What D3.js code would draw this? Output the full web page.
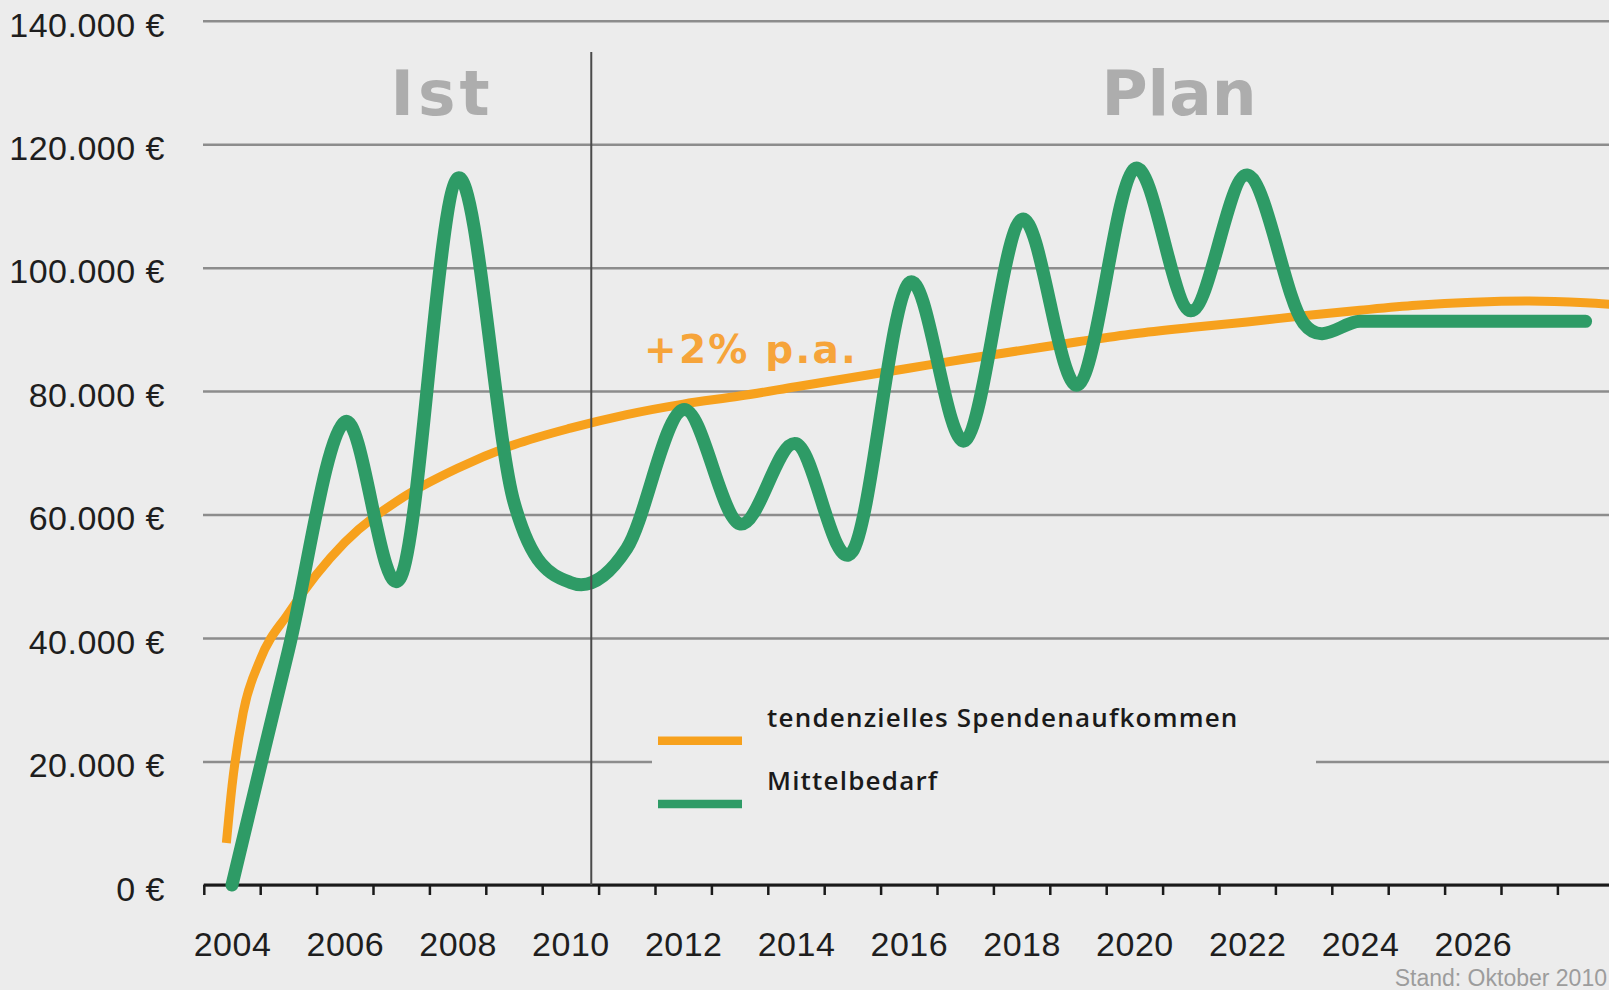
<!DOCTYPE html>
<html>
<head>
<meta charset="utf-8">
<script src="https://cdn.jsdelivr.net/npm/d3@7"></script>
<style>
  html, body { margin: 0; padding: 0; background: #ececec; }
  svg { display: block; }
</style>
</head>
<body>
<div id="chart"></div>
<script>
// ---------- DATA ----------
const greenYears = [2004, 2005, 2006, 2007, 2008, 2009, 2010, 2011, 2012, 2013, 2014, 2015, 2016,
                    2017, 2018, 2019, 2020, 2021, 2022, 2023, 2024, 2025, 2026, 2027, 2028];
const greenValues = [0, 38000, 75000, 50000, 114500, 62000, 49000, 54500, 77000, 58500, 71500, 54000, 97500,
                     72000, 107800, 81000, 116000, 93000, 115000, 91000, 91300, 91300, 91300, 91300, 91300];

const orangeYears = [2003.9, 2004, 2004.2, 2004.5, 2005, 2006, 2007, 2008, 2009, 2010, 2011, 2012, 2013, 2014,
                     2015, 2016, 2017, 2018, 2019, 2020, 2021, 2022, 2023, 2024, 2025, 2026, 2027, 2028, 2028.5];
const orangeValues = [6800, 16000, 28000, 36500, 44000, 55500, 62600, 67500, 71300, 74000, 76200, 77900, 79200, 80700,
                      82200, 83700, 85200, 86600, 88000, 89300, 90300, 91200, 92200, 93100, 93900, 94400, 94600, 94300, 94000];

const yTicks = [0, 20000, 40000, 60000, 80000, 100000, 120000, 140000];
const xLabelYears = [2004, 2006, 2008, 2010, 2012, 2014, 2016, 2018, 2020, 2022, 2024, 2026];
const xTickYears = d3.range(2003.5, 2028, 1);
const dividerYear = 2010.37;

const seriesNames = ["tendenzielles Spendenaufkommen", "Mittelbedarf"];
const phaseLabels = ["Ist", "Plan"];
const growthLabel = "+2% p.a.";
const sourceNote = "Stand: Oktober 2010";

// ---------- LAYOUT ----------
const W = 1609, H = 990;
const BG = "#ececec";
const GREEN = "#2e9b66";
const ORANGE = "#f7a11d";

const x = d3.scaleLinear().domain([2004, 2026]).range([232, 232 + 22 * 56.4]);
const y = d3.scaleLinear().domain([0, 140000]).range([885, 20.7]);
const gridLeft = 203;

const svg = d3.select("#chart").append("svg")
  .attr("width", W).attr("height", H)
  .style("font-family", "'Liberation Sans', Arial, sans-serif");

svg.append("rect").attr("width", W).attr("height", H).attr("fill", BG);

// y axis with gridlines
const locale = d3.formatLocale({decimal: ",", thousands: ".", grouping: [3], currency: ["", "\u00a0€"]});
const fmt = locale.format("$,.0f");

const yAxis = svg.append("g")
  .attr("transform", `translate(${gridLeft},0)`)
  .call(d3.axisLeft(y).tickValues(yTicks).tickFormat(fmt).tickSize(-(W - gridLeft)).tickPadding(38));
yAxis.select(".domain").remove();
yAxis.selectAll(".tick line").attr("stroke", "#8c8c8c").attr("stroke-width", 2.5);
yAxis.selectAll(".tick text")
  .attr("dy", "0.45em")
  .attr("fill", "#1e1e1e")
  .style("font-size", "34px")
  .style("letter-spacing", "0.5px")
  .style("font-family", "'Liberation Sans', Arial, sans-serif");

// legend background box (interrupts gridline)
svg.append("rect")
  .attr("x", 652).attr("y", 672).attr("width", 664).attr("height", 150)
  .attr("fill", BG);

// x axis ticks
const xAxisTicks = svg.append("g")
  .attr("transform", `translate(0,${y(0)})`)
  .call(d3.axisBottom(x).tickValues(xTickYears).tickFormat("").tickSize(10).tickSizeOuter(0));
xAxisTicks.select(".domain").remove();
xAxisTicks.selectAll(".tick line").attr("stroke", "#1a1a1a").attr("stroke-width", 2.5);

svg.append("line")
  .attr("x1", x(2003.5)).attr("x2", W)
  .attr("y1", y(0)).attr("y2", y(0))
  .attr("stroke", "#1a1a1a").attr("stroke-width", 3);

// x labels
const xAxisLabels = svg.append("g")
  .attr("transform", `translate(0,${y(0)})`)
  .call(d3.axisBottom(x).tickValues(xLabelYears).tickFormat(d3.format("d")).tickSize(0).tickPadding(47));
xAxisLabels.select(".domain").remove();
xAxisLabels.selectAll(".tick text")
  .attr("fill", "#1e1e1e")
  .style("font-size", "34px")
  .style("letter-spacing", "0.5px")
  .style("font-family", "'Liberation Sans', Arial, sans-serif");

// phase labels
svg.append("text")
  .attr("x", 442).attr("y", 115).attr("text-anchor", "middle")
  .style("font-family", "'DejaVu Sans', Verdana, sans-serif").style("font-weight", "bold")
  .style("font-size", "63px").style("letter-spacing", "4px").attr("fill", "#adadad")
  .text(phaseLabels[0]);
svg.append("text")
  .attr("x", 1179).attr("y", 115).attr("text-anchor", "middle")
  .style("font-family", "'DejaVu Sans', Verdana, sans-serif").style("font-weight", "bold")
  .style("font-size", "63px").attr("fill", "#adadad")
  .text(phaseLabels[1]);

// growth label
svg.append("text")
  .attr("x", 644).attr("y", 363)
  .style("font-family", "'DejaVu Sans', Verdana, sans-serif").style("font-weight", "bold")
  .style("font-size", "39px").style("letter-spacing", "2.2px").attr("fill", "#f6a43a")
  .text(growthLabel);

// lines
const orangeData = orangeYears.map((yr, i) => ({yr, v: orangeValues[i]}));
const greenData = greenYears.map((yr, i) => ({yr, v: greenValues[i]}));

const orangeLine = d3.line().x(d => x(d.yr)).y(d => y(d.v)).curve(d3.curveMonotoneX);
const greenLine = d3.line().x(d => x(d.yr)).y(d => y(d.v)).curve(d3.curveCardinal.tension(0));

svg.append("path").datum(orangeData)
  .attr("d", orangeLine).attr("fill", "none")
  .attr("stroke", ORANGE).attr("stroke-width", 9);

svg.append("path").datum(greenData)
  .attr("d", greenLine).attr("fill", "none")
  .attr("stroke", GREEN).attr("stroke-width", 13)
  .attr("stroke-linecap", "round").attr("stroke-linejoin", "round");

// divider line
svg.append("line")
  .attr("x1", x(dividerYear)).attr("x2", x(dividerYear))
  .attr("y1", 52).attr("y2", y(0))
  .attr("stroke", "#4a4a4a").attr("stroke-width", 2);

// legend
const legendColors = [ORANGE, GREEN];
const legendSwatchY = [740.7, 804];
const legendTextY = [727, 790];
seriesNames.forEach((name, i) => {
  svg.append("line")
    .attr("x1", 658).attr("x2", 742)
    .attr("y1", legendSwatchY[i]).attr("y2", legendSwatchY[i])
    .attr("stroke", legendColors[i]).attr("stroke-width", 8.5);
  svg.append("text")
    .attr("x", 767).attr("y", legendTextY[i])
    .style("font-family", "'Open Sans', sans-serif").style("font-weight", 600)
    .style("font-size", "26px").style("letter-spacing", "1.2px").attr("fill", "#1a1a1a")
    .text(name);
});

// source note
svg.append("text")
  .attr("x", 1607).attr("y", 986).attr("text-anchor", "end")
  .style("font-family", "'Liberation Sans', Arial, sans-serif")
  .style("font-size", "23px").attr("fill", "#9c9c9c")
  .text(sourceNote);
</script>
</body>
</html>
